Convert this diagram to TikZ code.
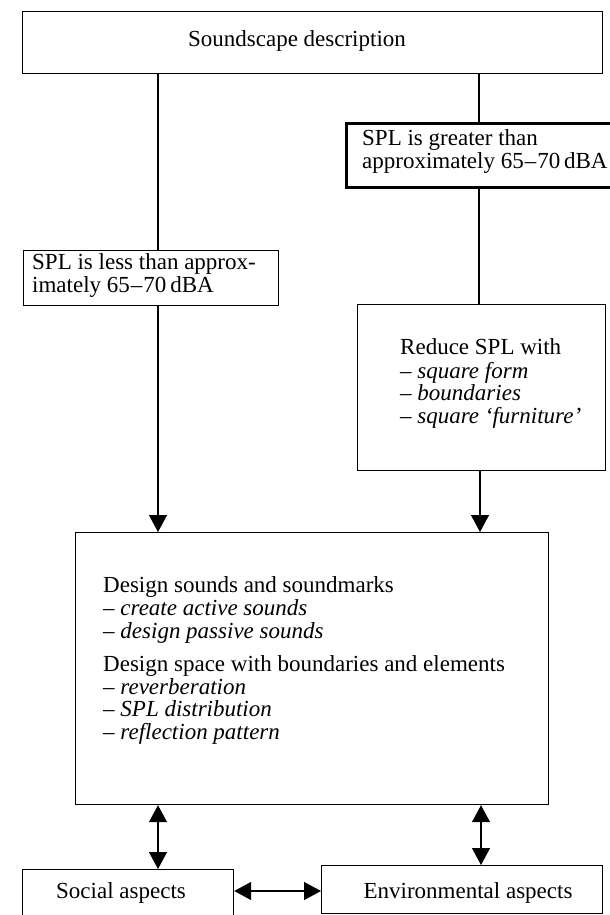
\documentclass[tikz,border=0pt]{standalone}
\usepackage{fontspec}
\setmainfont{Liberation Serif}
\usetikzlibrary{arrows.meta}
\newcommand{\dbrange}{65\kern1pt–\kern1pt70\,dBA}
\begin{document}
\begin{tikzpicture}[x=1pt,y=-1pt,
  box/.style={draw, line width=1.2pt, inner sep=0pt, anchor=north west},
  txt/.style={inner sep=0pt, font=\fontsize{23}{22.7}\selectfont},
  link/.style={line width=1.3pt},
  arr/.style={line width=1.3pt, -{Triangle[length=17pt,width=18pt]}},
  darr/.style={line width=1.3pt, {Triangle[length=17pt,width=18pt]}-{Triangle[length=17pt,width=18pt]}}]
\useasboundingbox (0,0) rectangle (610,915);

% boxes
\node[box, minimum width=580pt, minimum height=62pt] (top) at (22,11) {};
\node[box, line width=3pt, minimum width=300pt, minimum height=64pt] (greater) at (345,122) {};
\node[box, minimum width=255pt, minimum height=55pt] (less) at (23,250) {};
\node[box, minimum width=248pt, minimum height=166pt] (reduce) at (357,304) {};
\node[box, minimum width=473pt, minimum height=272pt] (main) at (75,532) {};
\node[box, minimum width=211pt, minimum height=70pt] (social) at (22,869) {};
\node[box, minimum width=281pt, minimum height=48pt] (env) at (321,865) {};

% texts
\node[txt, anchor=base] (ttop) at (297,47) {Soundscape description};
\node[txt, anchor=north west, align=left] (tgreater) at (362,129) {\strut SPL is greater than\\approximately \dbrange};
\node[txt, anchor=north west, align=left] (tless) at (32,253) {\strut SPL is less than approx-\\imately \dbrange};
\node[txt, anchor=north west, align=left] (treduce) at (400,338) {\strut Reduce SPL with\\– \textit{square form}\\– \textit{boundaries}\\– \textit{square ‘furniture’}};
\node[txt, anchor=north west, align=left] (tmain) at (103,576) {\strut Design sounds and soundmarks\\– \textit{create active sounds}\\– \textit{design passive sounds}\\[10pt]Design space with boundaries and elements\\– \textit{reverberation}\\– \textit{SPL distribution}\\– \textit{reflection pattern}};
\node[txt, anchor=base] (tsocial) at (121,898) {Social aspects};
\node[txt, anchor=base] (tenv) at (468,898) {Environmental aspects};

% connector columns
\coordinate (cL) at (158,0);
\coordinate (cR) at (479,0);
\coordinate (cR2) at (480,0);
\coordinate (cR3) at (481,0);
\coordinate (cH) at (0,891);

% connectors
\draw[link] (top.south -| cL) -- (less.north -| cL);
\draw[link] (top.south -| cR) -- (greater.north -| cR);
\draw[link] (greater.south -| cR) -- (reduce.north -| cR);
\draw[arr] (less.south -| cL) -- (main.north -| cL);
\draw[arr] (reduce.south -| cR2) -- (main.north -| cR2);
\draw[darr] (main.south -| cL) -- (social.north -| cL);
\draw[darr] (main.south -| cR3) -- (env.north -| cR3);
\draw[darr] (social.east |- cH) -- (env.west |- cH);
\end{tikzpicture}
\end{document}
